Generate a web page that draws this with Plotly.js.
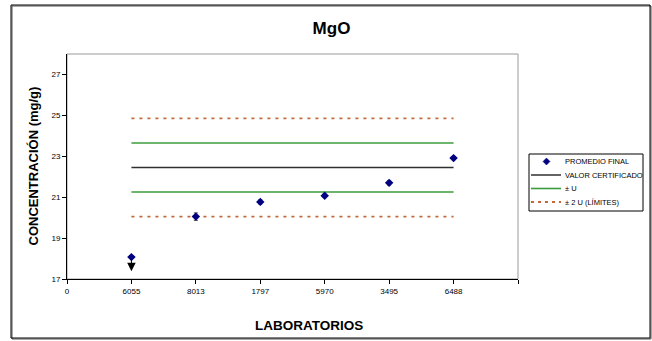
<!DOCTYPE html>
<html>
<head>
<meta charset="utf-8">
<script src="https://cdn.plot.ly/plotly-3.0.1.min.js"></script>
<style>
  html, body { margin: 0; padding: 0; background: #fff; }
  #chart { width: 652px; height: 341px; }
</style>
</head>
<body>
<div id="chart"></div>
<script>
// Laboratory codes along the x axis
const labs = ['6055', '8013', '1797', '5970', '3495', '6488'];
// Final mean reported by each laboratory (mg/g)
const promedioFinal = [18.07, 20.05, 20.77, 21.07, 21.70, 22.91];
// Half-width of each laboratory's error bar (mg/g)
const errorHalf = [0.05, 0.18, 0.10, 0.08, 0.10, 0.08];
// Reference levels (mg/g)
const valorCertificado = 22.45;
const uSuperior = 23.65;
const uInferior = 21.25;
const u2Superior = 24.85;
const u2Inferior = 20.05;
// Laboratory reported as "less than": arrow from its mean down to this level
const arrowLab = '6055';
const arrowTip = 17.38;
// Series names
const names = ['PROMEDIO FINAL', 'VALOR CERTIFICADO', '± U', '± 2 U (LÍMITES)'];

const W = 652, H = 341;
const M = { l: 67, r: 134, t: 54, b: 62 };
const PW = W - M.l - M.r, PH = H - M.t - M.b;
// pixel -> paper coordinates
const px = x => (x - M.l) / PW;
const py = y => (H - M.b - y) / PH;

const FONT = 'Arial, "Liberation Sans", sans-serif';
const NAVY = '#000080', GREEN = '#3c9c3c', DOT = '#c8683a', BLACK = '#303030';

const xPos = labs.map((_, i) => i + 1);
const xFirst = xPos[0], xLast = xPos[xPos.length - 1];
const flat = v => [v, v];

const traces = [
  { x: [xFirst, xLast], y: flat(u2Superior), mode: 'lines', line: { color: DOT, width: 1.8, dash: '3px,5px' }, hoverinfo: 'skip' },
  { x: [xFirst, xLast], y: flat(u2Inferior), mode: 'lines', line: { color: DOT, width: 1.8, dash: '3px,5px' }, hoverinfo: 'skip' },
  { x: [xFirst, xLast], y: flat(uSuperior), mode: 'lines', line: { color: GREEN, width: 1.6 }, hoverinfo: 'skip' },
  { x: [xFirst, xLast], y: flat(uInferior), mode: 'lines', line: { color: GREEN, width: 1.6 }, hoverinfo: 'skip' },
  { x: [xFirst, xLast], y: flat(valorCertificado), mode: 'lines', line: { color: BLACK, width: 1.5 }, hoverinfo: 'skip' },
  {
    x: xPos, y: promedioFinal, mode: 'markers', name: names[0],
    marker: { symbol: 'diamond', size: 6.5, color: NAVY },
    error_y: { type: 'data', array: errorHalf, visible: true, color: '#404040', thickness: 1, width: 2 }
  }
];

const arrowX = labs.indexOf(arrowLab) + 1;
const arrowY0 = promedioFinal[labs.indexOf(arrowLab)];

// Hand-drawn legend box
const legLeft = 529, legRight = 643, legTop = 154, legBottom = 211;
const rowY = [161.5, 175, 188.5, 202];
const sampleX0 = 531, sampleX1 = 561, textX = 563;

const shapes = [
  // plot area frame
  { type: 'rect', xref: 'paper', yref: 'paper', x0: 0, x1: 1, y0: 0, y1: 1, line: { color: '#9a9a9a', width: 1 }, layer: 'below' },
  // outer chart border with shadow
  { type: 'rect', xref: 'paper', yref: 'paper', x0: px(12), x1: px(651), y0: py(339), y1: py(6), line: { color: '#555', width: 1 }, layer: 'below' },
  { type: 'rect', xref: 'paper', yref: 'paper', x0: px(11), x1: px(650), y0: py(338), y1: py(5), line: { color: '#000', width: 1 }, layer: 'below' },
  // legend frame
  { type: 'rect', xref: 'paper', yref: 'paper', x0: px(legLeft), x1: px(legRight), y0: py(legBottom), y1: py(legTop), line: { color: '#000', width: 1 }, fillcolor: '#fff' },
  { type: 'line', xref: 'paper', yref: 'paper', x0: px(sampleX0), x1: px(sampleX1), y0: py(rowY[1]), y1: py(rowY[1]), line: { color: BLACK, width: 1.5 } },
  { type: 'line', xref: 'paper', yref: 'paper', x0: px(sampleX0), x1: px(sampleX1), y0: py(rowY[2]), y1: py(rowY[2]), line: { color: GREEN, width: 1.6 } },
  { type: 'line', xref: 'paper', yref: 'paper', x0: px(sampleX0), x1: px(sampleX1), y0: py(rowY[3]), y1: py(rowY[3]), line: { color: DOT, width: 1.8, dash: '3px,4px' } },
  { type: 'path', xref: 'paper', yref: 'paper',
    path: `M ${px(546.5)} ${py(rowY[0] - 3.5)} L ${px(550)} ${py(rowY[0])} L ${px(546.5)} ${py(rowY[0] + 3.5)} L ${px(543)} ${py(rowY[0])} Z`,
    fillcolor: NAVY, line: { color: NAVY, width: 0.5 } }
];

const annotations = [
  // "less than" arrow for one laboratory
  { x: arrowX, y: arrowTip, ax: arrowX, ay: arrowY0, xref: 'x', yref: 'y', axref: 'x', ayref: 'y',
    showarrow: true, arrowhead: 2, arrowsize: 1.7, arrowwidth: 1, arrowcolor: '#000', text: '' },
  // axis titles
  { xref: 'paper', yref: 'paper', x: px(32.5), y: py(166), text: '<b>CONCENTRACIÓN (mg/g)</b>', textangle: -90,
    showarrow: false, font: { family: FONT, size: 13, color: '#000' }, xanchor: 'center', yanchor: 'middle' },
  { xref: 'paper', yref: 'paper', x: px(308.5), y: py(325.5), text: '<b>LABORATORIOS</b>',
    showarrow: false, font: { family: FONT, size: 13.5, color: '#000' }, xanchor: 'center', yanchor: 'middle' }
];
names.forEach((n, i) => annotations.push({
  xref: 'paper', yref: 'paper', x: px(textX), y: py(rowY[i]), text: n, showarrow: false,
  xanchor: 'left', yanchor: 'middle', font: { family: FONT, size: 7.5, color: '#000' }
}));

const layout = {
  width: W, height: H,
  margin: M,
  paper_bgcolor: '#fff', plot_bgcolor: '#fff',
  showlegend: false,
  title: { text: '<b>MgO</b>', x: 331.5 / W, xref: 'container', y: 1 - 28 / H, yref: 'container',
           xanchor: 'center', yanchor: 'middle', font: { family: FONT, size: 17, color: '#000' } },
  font: { family: FONT, color: '#000' },
  xaxis: {
    range: [0, 7], tickvals: [0, 1, 2, 3, 4, 5, 6, 7], ticktext: ['0'].concat(labs, ['']),
    showgrid: false, zeroline: false, showline: true, linecolor: '#000', linewidth: 1,
    ticks: 'outside', ticklen: 4, tickcolor: '#000', tickfont: { family: FONT, size: 8, color: '#000' }
  },
  yaxis: {
    range: [17, 28], tick0: 17, dtick: 2,
    showgrid: false, zeroline: false, showline: true, linecolor: '#000', linewidth: 1,
    ticks: 'outside', ticklen: 4, tickcolor: '#000', tickfont: { family: FONT, size: 8, color: '#000' }
  },
  shapes: shapes,
  annotations: annotations
};

Plotly.newPlot('chart', traces, layout, { staticPlot: true, displayModeBar: false });
</script>
</body>
</html>
